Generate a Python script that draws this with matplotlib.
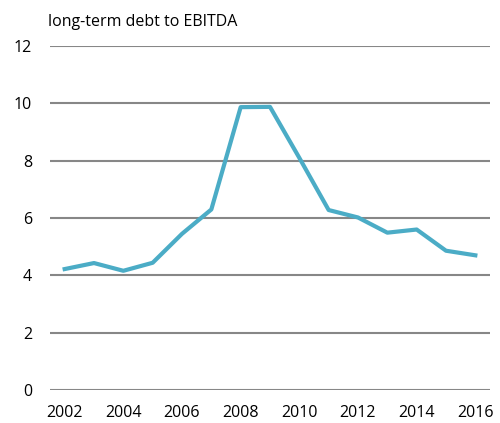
import numpy as np
import matplotlib
matplotlib.use('Agg')
import matplotlib.pyplot as plt

years = list(range(2002, 2017))
debt_to_ebitda = [4.22, 4.43, 4.16, 4.44, 5.45, 6.30, 9.87, 9.88, 8.10,
                  6.28, 6.02, 5.49, 5.60, 4.86, 4.70]
tick_years = list(range(2002, 2017, 2))
y_ticks = [0, 2, 4, 6, 8, 10, 12]

plt.rcParams['font.family'] = ['Open Sans', 'DejaVu Sans']

fig = plt.figure(figsize=(5, 4.23), dpi=100)
ax = fig.add_axes([0.1, 0.078, 0.88, 0.813])

# horizontal gridlines drawn by hand so the top one at 12 is not clipped
for y in y_ticks:
	ax.axhline(y, color='#878787', lw=1.5, zorder=1)

ax.plot(years, debt_to_ebitda, color='#4bacc6', lw=3, zorder=3)

ax.set_xlim(2001.5, 2016.5)
ax.set_ylim(0, 12)
ax.set_xticks(tick_years)
ax.set_yticks(y_ticks)
ax.tick_params(length=0, labelsize=11.5)
ax.tick_params(axis='x', pad=11)
ax.tick_params(axis='y', pad=13)
for s in ax.spines.values():
	s.set_visible(False)
ax.patch.set_alpha(0)

fig.text(0.096, 0.948, 'long-term debt to EBITDA', fontsize=11.5, va='center', ha='left')

fig.savefig('out.png', dpi=100)
